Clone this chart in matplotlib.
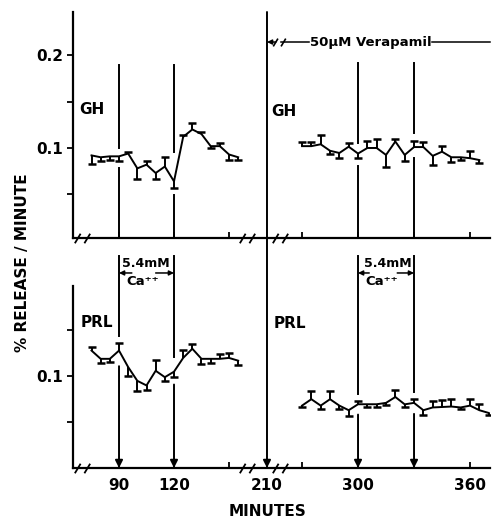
import numpy as np
import matplotlib
matplotlib.use("Agg")
import matplotlib.pyplot as plt
from matplotlib.patches import ConnectionPatch
from matplotlib.path import Path

plt.rcParams['font.family'] = ['DejaVu Sans']
plt.rcParams['font.weight'] = 'bold'

# ---------------- data ----------------
ctrl_minutes = [75, 80, 85, 90, 95, 100, 105, 110, 115, 120, 125, 130, 135, 140, 145, 150, 155]
gh_ctrl = [0.092, 0.090, 0.091, 0.091, 0.094, 0.078, 0.082, 0.073, 0.080, 0.064,
           0.112, 0.120, 0.115, 0.102, 0.102, 0.093, 0.090]
gh_ctrl_err = [-0.009, -0.004, -0.004, -0.005, 0.002, -0.011, 0.004, -0.006, 0.010, -0.007,
               0.002, 0.0065, 0.002, -0.002, 0.003, -0.006, -0.003]
prl_ctrl = [0.128, 0.119, 0.119, 0.128, 0.110, 0.095, 0.090, 0.106, 0.099, 0.105,
            0.120, 0.130, 0.119, 0.119, 0.119, 0.120, 0.117]
prl_ctrl_err = [0.004, -0.005, -0.003, 0.008, -0.010, -0.011, -0.005, 0.012, -0.004, -0.006,
                0.009, 0.005, -0.006, -0.004, 0.005, 0.005, -0.005]

ver_gh_minutes = [270, 275, 280, 285, 290, 295, 300, 305, 310, 315,
                  320, 325, 330, 335, 340, 345, 350, 355, 360, 365]
gh_ver = [0.102, 0.102, 0.104, 0.097, 0.0946, 0.1014, 0.094, 0.100, 0.100, 0.0925,
          0.107, 0.0925, 0.101, 0.101, 0.0915, 0.096, 0.090, 0.090, 0.089, 0.087]
gh_ver_err = [0.004, 0.004, 0.010, -0.003, -0.005, 0.004, -0.005, 0.008, 0.010, -0.0125,
              0.003, -0.007, 0.007, 0.005, -0.010, 0.006, -0.005, -0.003, 0.008, -0.003]

ver_prl_minutes = [270, 275, 280, 285, 290, 295, 300, 305, 310, 315, 320,
                   325, 330, 335, 340, 345, 350, 355, 360, 365, 370]
prl_ver = [0.068, 0.075, 0.068, 0.075, 0.068, 0.063, 0.0695, 0.0695, 0.0695, 0.071, 0.0774,
           0.0694, 0.071, 0.063, 0.066, 0.0665, 0.067, 0.066, 0.068, 0.063, 0.060]
prl_ver_err = [-0.002, 0.009, -0.004, 0.009, -0.004, -0.006, 0.003, -0.003, -0.003, -0.002, 0.008,
               -0.003, 0.004, -0.005, 0.007, 0.008, 0.008, -0.002, 0.007, 0.007, -0.002]

ca_pulses = [(90, 120), (300, 330)]
verapamil_start = 210
break_minutes = [70, 160, 254]

x_ticks_top = [90, 120, 150, 270, 300, 330, 360]
x_ticks_bot = [90, 120, 150, 210, 270, 300, 330, 360]
x_labels_bot = ['90', '120', '', '210', '', '300', '', '360']

# ---------------- broken time scale ----------------
T_KNOTS = [60, 162, 210, 259, 380]
P_KNOTS = [64.0, 251.0, 267.0, 281.5, 507.4]


def fwd(t):
    return np.interp(t, T_KNOTS, P_KNOTS)


def inv(p):
    return np.interp(p, P_KNOTS, T_KNOTS)


W, H = 492, 521
fig = plt.figure(figsize=(W / 100, H / 100), dpi=100)
ax_top = fig.add_axes([73 / W, 1 - 238 / H, 417 / W, 226 / H])
ax_bot = fig.add_axes([73 / W, 1 - 468 / H, 417 / W, 182 / H])

LW = 1.4
for ax in (ax_top, ax_bot):
    ax.set_xscale('function', functions=(fwd, inv))
    ax.set_xlim(64.9, 370.7)
    for s in ('top', 'right'):
        ax.spines[s].set_visible(False)
    for s in ('left', 'bottom'):
        ax.spines[s].set_linewidth(1.6)
    ax.tick_params(axis='x', direction='in', length=4, width=1.3, pad=7, labelsize=11)
    ax.tick_params(axis='y', direction='out', length=4, width=1.3, pad=3, labelsize=11)
    ax.minorticks_off()

ax_top.set_ylim(0.0029, 0.2467)
ax_bot.set_ylim(0.0, 0.1984)
ax_top.set_yticks([0.05, 0.1, 0.15, 0.2])
ax_top.set_yticklabels(['', '0.1', '', '0.2'])
ax_bot.set_yticks([0.05, 0.1, 0.15])
ax_bot.set_yticklabels(['', '0.1', ''])
ax_top.set_xticks(x_ticks_top)
ax_top.set_xticklabels([''] * len(x_ticks_top))
ax_bot.set_xticks(x_ticks_bot)
ax_bot.set_xticklabels(x_labels_bot)
ax_top.minorticks_off()
ax_bot.minorticks_off()


def draw_series(ax, t, y, err):
    t = np.asarray(t, float)
    y = np.asarray(y, float)
    e = np.asarray(err, float)
    ax.plot(t, y, color='black', lw=LW, solid_joinstyle='miter')
    ax.vlines(t, y, y + e, color='black', lw=LW)
    ax.plot(t, y + e, ls='none', marker='_', ms=5.5, mew=1.8, color='black')


def stim_line(ax, t0, y_top, t, y, err, arrow, margin=0.008):
    t = np.asarray(t, float)
    y = np.asarray(y, float)
    e = np.asarray(err, float)
    win = np.interp([t0 - 2.5, t0, t0 + 2.5], t, y)
    i = int(np.argmin(np.abs(t - t0)))
    lo = min(win.min(), y[i] + e[i]) - margin
    hi = max(win.max(), y[i] + e[i]) + margin
    ybot = ax.get_ylim()[0]
    ax.plot([t0, t0], [hi, y_top], color='black', lw=LW, clip_on=False)
    if arrow:
        ax.annotate('', xy=(t0, ybot), xytext=(t0, lo),
                    arrowprops=dict(arrowstyle='-|>', color='black', lw=LW,
                                    mutation_scale=11, shrinkA=0, shrinkB=0))
    else:
        ax.plot([t0, t0], [ybot, lo], color='black', lw=LW)


# series
draw_series(ax_top, ctrl_minutes, gh_ctrl, gh_ctrl_err)
draw_series(ax_top, ver_gh_minutes, gh_ver, gh_ver_err)
draw_series(ax_bot, ctrl_minutes, prl_ctrl, prl_ctrl_err)
draw_series(ax_bot, ver_prl_minutes, prl_ver, prl_ver_err)

# calcium pulse markers
(on1, off1), (on2, off2) = ca_pulses
for t0 in (on1, off1):
    stim_line(ax_top, t0, 0.19, ctrl_minutes, gh_ctrl, gh_ctrl_err, arrow=False)
    stim_line(ax_bot, t0, 0.231, ctrl_minutes, prl_ctrl, prl_ctrl_err, arrow=True)
for t0 in (on2, off2):
    stim_line(ax_top, t0, 0.192, ver_gh_minutes, gh_ver, gh_ver_err, arrow=False)
    stim_line(ax_bot, t0, 0.231, ver_prl_minutes, prl_ver, prl_ver_err, arrow=True)

# Ca++ labels
arrow_kw = dict(arrowstyle='-|>', color='black', lw=1.1, mutation_scale=7,
                shrinkA=0, shrinkB=0)
for (on, off), mid, camid, a_in, b_in in [((on1, off1), 104.5, 103, 97, 110),
                                          ((on2, off2), 315.8, 312.5, 306, 321)]:
    ax_bot.text(mid, 0.2225, '5.4mM', ha='center', va='center', fontsize=9,
                fontweight='bold', clip_on=False)
    ax_bot.text(camid, 0.2035, 'Ca⁺⁺', ha='center', va='center', fontsize=9.5,
                fontweight='bold', clip_on=False)
    ax_bot.annotate('', xy=(on, 0.2126), xytext=(a_in, 0.2126), arrowprops=arrow_kw,
                    annotation_clip=False)
    ax_bot.annotate('', xy=(off, 0.2126), xytext=(b_in, 0.2126), arrowprops=arrow_kw,
                    annotation_clip=False)

# verapamil line through both panels
con = ConnectionPatch(xyA=(verapamil_start, ax_top.get_ylim()[1]), coordsA=ax_top.transData,
                      xyB=(verapamil_start, 0.0), coordsB=ax_bot.transData,
                      arrowstyle='-|>', mutation_scale=11, lw=LW, color='black',
                      shrinkA=0, shrinkB=0)
fig.add_artist(con)

# break marks
brk = Path([(-1.6, -1.0), (-0.4, 1.0), (0.4, -1.0), (1.6, 1.0)],
           [Path.MOVETO, Path.LINETO, Path.MOVETO, Path.LINETO])
for ax in (ax_top, ax_bot):
    yb = ax.get_ylim()[0]
    ax.plot(break_minutes, [yb] * len(break_minutes), ls='none', marker=brk, ms=11,
            mew=1.3, color='black', clip_on=False)

# verapamil annotation
yv = 0.2143
ax_top.annotate('', xy=(verapamil_start, yv), xytext=(240, yv),
                arrowprops=dict(arrowstyle='-|>', color='black', lw=1.1, mutation_scale=7,
                                shrinkA=0, shrinkB=0))
ax_top.plot([251], [yv], ls='none', marker=brk, ms=9, mew=1.2, color='black')
ax_top.plot([258, 274], [yv, yv], color='black', lw=1.1)
ax_top.plot([339.5, 370.5], [yv, yv], color='black', lw=1.1, clip_on=False)
ax_top.text(307, yv, '50μM Verapamil', ha='center', va='center', fontsize=9.5,
            fontweight='bold')

# panel labels
ax_top.text(75.3, 0.142, 'GH', ha='center', va='center', fontsize=11, fontweight='bold')
ax_top.text(260.5, 0.139, 'GH', ha='center', va='center', fontsize=11, fontweight='bold')
ax_bot.text(78, 0.159, 'PRL', ha='center', va='center', fontsize=11, fontweight='bold')
ax_bot.text(263.6, 0.158, 'PRL', ha='center', va='center', fontsize=11, fontweight='bold')

# axis titles
fig.text(22.5 / W, 1 - 263 / H, '% RELEASE / MINUTE', rotation=90, ha='center',
         va='center', fontsize=11, fontweight='bold')
fig.text(268 / W, 1 - 512 / H, 'MINUTES', ha='center', va='center', fontsize=11,
         fontweight='bold')

fig.savefig('out.png', dpi=100)
